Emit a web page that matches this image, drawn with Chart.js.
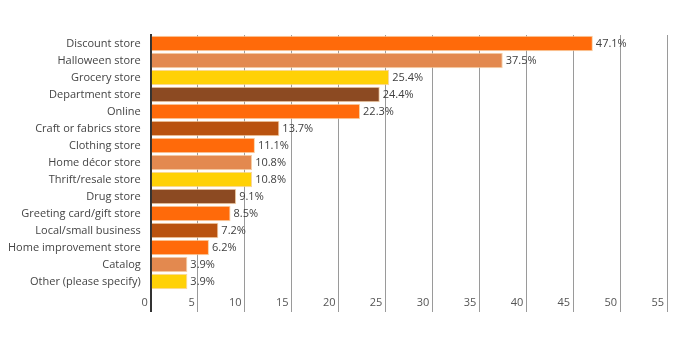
<!DOCTYPE html>
<html>
<head>
<meta charset="utf-8">
<script src="https://cdn.jsdelivr.net/npm/chart.js@4"></script>
<style>
  html, body { margin: 0; padding: 0; background: #fff; }
  #wrap { width: 696px; height: 338px; }
</style>
</head>
<body>
<div id="wrap"><canvas id="grafica"></canvas></div>
<script>
// --- Datos ---
const tiendas = [
  'Discount store', 'Halloween store', 'Grocery store', 'Department store', 'Online',
  'Craft or fabrics store', 'Clothing store', 'Home décor store', 'Thrift/resale store',
  'Drug store', 'Greeting card/gift store', 'Local/small business',
  'Home improvement store', 'Catalog', 'Other (please specify)'
];
const porcentajes = [47.1, 37.5, 25.4, 24.4, 22.3, 13.7, 11.1, 10.8, 10.8, 9.1, 8.5, 7.2, 6.2, 3.9, 3.9];
const ticksX = [0, 5, 10, 15, 20, 25, 30, 35, 40, 45, 50, 55];

// paleta que se repite cada 6 barras
const paleta = ['#FF6A0A', '#E3894F', '#FFD106', '#8C4A22', '#FF6A0A', '#B9520F'];
const colores = porcentajes.map((_, i) => paleta[i % paleta.length]);

const fuente = "'Open Sans', 'DejaVu Sans', sans-serif";

// --- Etiquetas de valor al final de cada barra ---
const etiquetasValor = {
  id: 'etiquetasValor',
  afterDatasetsDraw(chart) {
    const ctx = chart.ctx;
    const meta = chart.getDatasetMeta(0);
    ctx.save();
    ctx.font = '11px ' + fuente;
    ctx.fillStyle = '#404040';
    ctx.textAlign = 'left';
    ctx.textBaseline = 'middle';
    meta.data.forEach((bar, i) => {
      ctx.fillText(porcentajes[i].toFixed(1) + '%', bar.x + 3, bar.y);
    });
    ctx.restore();
  }
};

new Chart(document.getElementById('grafica'), {
  type: 'bar',
  data: {
    labels: tiendas,
    datasets: [{
      data: porcentajes,
      backgroundColor: colores,
      borderColor: '#F7D2A6',
      borderWidth: 1,
      borderSkipped: 'start',
      barPercentage: 0.9,
      categoryPercentage: 1
    }]
  },
  options: {
    indexAxis: 'y',
    responsive: true,
    maintainAspectRatio: false,
    animation: false,
    layout: { padding: { top: 35, right: 29, bottom: 26, left: 6 } },
    plugins: { legend: { display: false }, tooltip: { enabled: false } },
    scales: {
      x: {
        min: 0,
        max: 55,
        afterBuildTicks: axis => { axis.ticks = ticksX.map(v => ({ value: v })); },
        // altura fija: las etiquetas van junto a las líneas, no debajo
        afterFit: axis => { axis.height = 22; },
        grid: {
          color: c => (c.tick && c.tick.value === 0) ? '#333' : '#9a9a9a',
          lineWidth: c => (c.tick && c.tick.value === 0) ? 2 : 1,
          drawTicks: true,
          tickLength: 22
        },
        border: { display: false },
        ticks: {
          align: 'end',
          labelOffset: -3,
          padding: -16,
          font: { family: fuente, size: 11 },
          color: '#555'
        }
      },
      y: {
        grid: { display: false },
        border: { display: true, color: '#333', width: 2 },
        ticks: {
          autoSkip: false,
          padding: 2,
          font: { family: fuente, size: 11 },
          color: '#444'
        }
      }
    }
  },
  plugins: [etiquetasValor]
});
</script>
</body>
</html>
